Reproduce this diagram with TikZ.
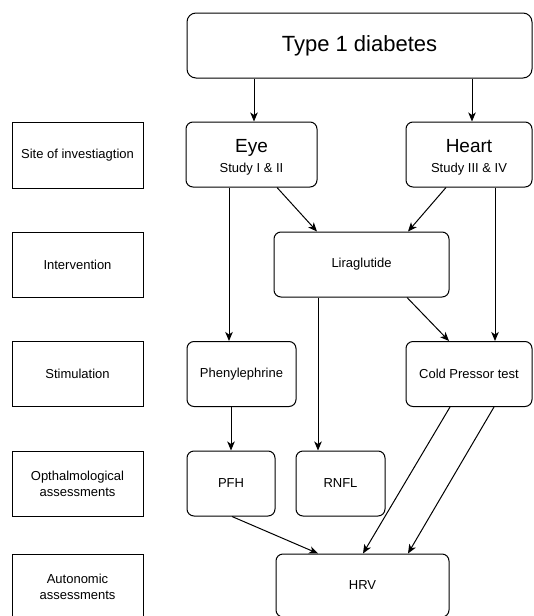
\documentclass[tikz,border=0pt]{standalone}
\usepackage{fontspec}
\setmainfont{Liberation Sans}
\usetikzlibrary{arrows.meta}
\begin{document}
\begin{tikzpicture}[x=1pt,y=-1pt,
  rbox/.style={draw, line width=1pt, rounded corners=7pt, inner sep=0pt, align=center, font=\fontsize{13}{15}\selectfont},
  lbox/.style={draw, line width=1pt, inner sep=0pt, align=center, minimum width=131pt, font=\fontsize{13}{16}\selectfont},
  arr/.style={line width=1pt, -{Stealth[length=9pt,width=7.5pt,inset=2.5pt]}}]
\useasboundingbox (0,0) rectangle (533,616);
% left labels
\node[lbox, minimum height=66pt] (site) at (77.5,155) {Site of investiagtion};
\node[lbox, minimum height=65pt] (interv) at (77.5,264.5) {Intervention};
\node[lbox, minimum height=65pt] (stim) at (77.5,373.5) {Stimulation};
\node[lbox, minimum height=65pt] (opth) at (77.5,483.5) {Opthalmological\\assessments};
\node[lbox, minimum height=65pt] (auton) at (77.5,587) {Autonomic\\assessments};
% main boxes
\node[rbox, minimum width=345pt, minimum height=65pt, rounded corners=9pt, font=\fontsize{22}{26}\selectfont] (top) at (359.5,45.5) {Type 1 diabetes};
\node[rbox, minimum width=131pt, minimum height=65pt] (eye) at (251.5,154.5) {\raisebox{0pt}[0pt][0pt]{}};
\node[font=\fontsize{19}{22}\selectfont, inner sep=0pt, anchor=base] (eyet) at (251.5,152) {Eye};
\node[font=\fontsize{13}{15}\selectfont, inner sep=0pt, anchor=base] (eyes) at (251.5,172) {Study I \& II};
\node[rbox, minimum width=126pt, minimum height=65pt] (heart) at (469,154.5) {};
\node[font=\fontsize{19}{22}\selectfont, inner sep=0pt, anchor=base] (heartt) at (469,152) {Heart};
\node[font=\fontsize{13}{15}\selectfont, inner sep=0pt, anchor=base] (hearts) at (469,172) {Study III \& IV};
\node[rbox, minimum width=175pt, minimum height=65pt] (lira) at (361.5,264.5) {Liraglutide};
\node[rbox, minimum width=109pt, minimum height=65pt] (phen) at (241.5,374) {Phenylephrine};
\node[rbox, minimum width=126pt, minimum height=65pt] (cold) at (469,374) {Cold Pressor test};
\node[rbox, minimum width=88pt, minimum height=65pt] (pfh) at (231,483.5) {PFH};
\node[rbox, minimum width=89pt, minimum height=65pt] (rnfl) at (340.5,483.5) {RNFL};
\node[rbox, minimum width=173pt, minimum height=63pt] (hrv) at (362.5,585.5) {HRV};
% connectors
\draw[arr] ([xshift=-105.5pt]top.south) -- ([xshift=2.5pt]eye.north);
\draw[arr] ([xshift=112.5pt]top.south) -- ([xshift=3pt]heart.north);
\draw[arr] ([xshift=-22.5pt]eye.south) -- ([xshift=-12.5pt]phen.north);
\draw[arr] ([xshift=25.5pt]eye.south) -- ([xshift=-44.5pt]lira.north);
\draw[arr] ([xshift=-23pt]heart.south) -- ([xshift=46.5pt]lira.north);
\draw[arr] ([xshift=26pt]heart.south) -- ([xshift=26pt]cold.north);
\draw[arr] ([xshift=45.5pt]lira.south) -- ([xshift=-20pt]cold.north);
\draw[arr] ([xshift=-43.5pt]lira.south) -- ([xshift=-22.5pt]rnfl.north);
\draw[arr] ([xshift=-10.5pt]phen.south) -- (pfh.north);
\draw[arr] ([xshift=1pt]pfh.south) -- ([xshift=-44.5pt]hrv.north);
\draw[arr] ([xshift=-19pt]cold.south) -- ([xshift=0.5pt]hrv.north);
\draw[arr] ([xshift=25pt]cold.south) -- ([xshift=45.5pt]hrv.north);
\end{tikzpicture}
\end{document}
